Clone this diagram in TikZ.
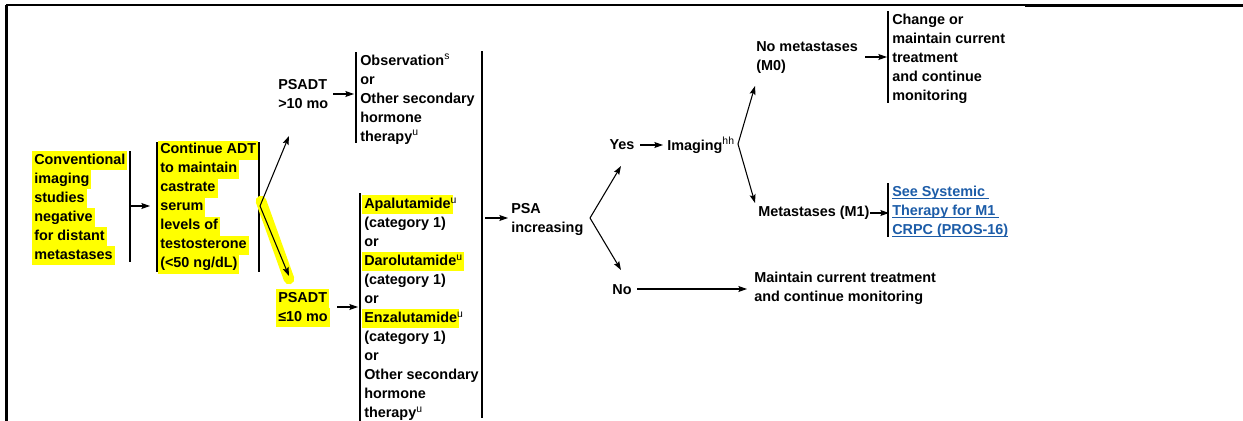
\documentclass[tikz,border=0pt]{standalone}
\usepackage{fontspec}
\setmainfont{Liberation Sans}
\usepackage{tikz}
\usetikzlibrary{arrows.meta}

\definecolor{hlyellow}{RGB}{255,255,0}
\definecolor{linkblue}{RGB}{28,92,168}
% yellow marker behind one line of text
\newcommand{\hl}[1]{\kern-1.5pt{\setlength{\fboxsep}{0pt}\colorbox{hlyellow}{\kern1.5pt\strut #1\kern1.5pt}}\kern-1.5pt}
\newcommand{\fn}[1]{\raisebox{4.2pt}{\fontsize{7.8}{8}\selectfont\mdseries #1}}
\newcommand{\lnk}[1]{\setbox0\hbox{#1}\rlap{\rule[-1.6pt]{\wd0}{0.6pt}}\box0}

\begin{document}
\begin{tikzpicture}[x=0.75pt, y=-0.75pt,
  font=\fontsize{10.8}{14.25}\selectfont\bfseries,
  txt/.style={anchor=west, align=left, inner sep=0pt},
  bar/.style={line width=0.8pt},
  arr/.style={line width=0.8pt, -{Stealth[length=6.5pt,width=4.5pt,inset=1.2pt]}}]

% Set the size of the figure
\useasboundingbox (0,0) rectangle (1243,421);

% Page frame
\draw[line width=0.8pt] (6,5) -- (1025,5);
\draw[line width=1.6pt] (1025,5.5) -- (1243,5.5);
\draw[line width=1.6pt] (6.5,4.5) -- (6.5,421);
\draw[line width=1.6pt] (6,5) -- (20,5);

% Starting point
\node[txt] (conv) at (34,208) {\hl{Conventional}\\\hl{imaging}\\\hl{studies}\\\hl{negative}\\\hl{for distant}\\\hl{metastases}};
\draw[bar] (130,151) -- (130,262);
\coordinate (convOut) at (130,206);
\coordinate (adtIn) at (150,206);
\draw[arr] (convOut) -- (adtIn);

\node[txt] (adt) at (160,207) {\hl{Continue ADT}\\\hl{to maintain}\\\hl{castrate}\\\hl{serum}\\\hl{levels of}\\\hl{testosterone}\\\hl{(<50 ng/dL)}};
\draw[bar] (157,142) -- (157,272);
\draw[bar] (259,142) -- (259,272);

% Split on PSADT
\coordinate (forkA) at (260,206);
\coordinate (upA) at (289,136);
\coordinate (downA) at (289,276);
\draw[hlyellow, line width=8pt, line cap=round] (261,201) -- (289,279);
\draw[arr] (forkA) -- (upA);
\draw[arr] (forkA) -- (downA);

\node[txt] (psadtHi) at (278,94) {PSADT\\>10 mo};
\coordinate (hiOut) at (333,94);
\coordinate (obsIn) at (354,94);
\draw[arr] (hiOut) -- (obsIn);
\draw[bar] (356,52) -- (356,143);
\node[txt] (obs) at (360,99) {Observation\fn{s}\\or\\Other secondary\\hormone\\therapy\fn{u}};

\node[txt] (psadtLo) at (278,308) {\hl{PSADT}\\\hl{≤10 mo}};
\coordinate (loOut) at (337,307);
\coordinate (treatIn) at (358,307);
\draw[arr] (loOut) -- (treatIn);
\draw[bar] (360,193) -- (360,421);
\node[txt] (treat) at (364,308) {\hl{Apalutamide}\fn{u}\\(category 1)\\or\\\hl{Darolutamide\fn{u}}\\(category 1)\\or\\\hl{Enzalutamide}\fn{u}\\(category 1)\\or\\Other secondary\\hormone\\therapy\fn{u}};

% Both branches join
\draw[bar] (482,51) -- (482,418);
\coordinate (joinOut) at (485,218);
\coordinate (psaIn) at (508,218);
\draw[arr] (joinOut) -- (psaIn);
\node[txt] (psa) at (511,219) {PSA\\increasing};

% PSA increasing?
\coordinate (forkB) at (590,218);
\coordinate (upB) at (621,166);
\coordinate (downB) at (621,270);
\draw[arr] (forkB) -- (upB);
\draw[arr] (forkB) -- (downB);

\node[inner sep=0pt] (yes) at (622,145) {Yes};
\node[txt] (img) at (667,145) {Imaging\fn{hh}};
\draw[arr] ([xshift=4]yes.east) -- ([xshift=-3]img.west);

\coordinate (forkC) at (738,144);
\coordinate (upC) at (755,86);
\coordinate (downC) at (755,203);
\draw[arr] (forkC) -- (upC);
\draw[arr] (forkC) -- (downC);

\node[txt] (noMet) at (756,58) {No metastases\\(M0)};
\coordinate (m0Out) at (865,57);
\coordinate (m0In) at (887,57);
\draw[arr] (m0Out) -- (m0In);
\draw[bar] (888,11) -- (888,103);
\node[txt] (change) at (892,59) {Change or\\maintain current\\treatment\\and continue\\monitoring};

\node[txt] (met) at (758,213) {Metastases (M1)};
\coordinate (m1Out) at (870,213);
\coordinate (m1In) at (889,213);
\draw[arr] (m1Out) -- (m1In);
\draw[bar] (888,183) -- (888,237);
\node[txt, text=linkblue] (link) at (892,212) {\lnk{See Systemic\ }\\\lnk{Therapy for M1\ }\\\lnk{CRPC (PROS-16)}};

\node[inner sep=0pt] (no) at (622,290) {No};
\coordinate (keepIn) at (747,289);
\draw[arr] ([xshift=4]no.east |- keepIn) -- (keepIn);
\node[txt] (keep) at (754,288) {Maintain current treatment\\and continue monitoring};
\end{tikzpicture}
\end{document}
